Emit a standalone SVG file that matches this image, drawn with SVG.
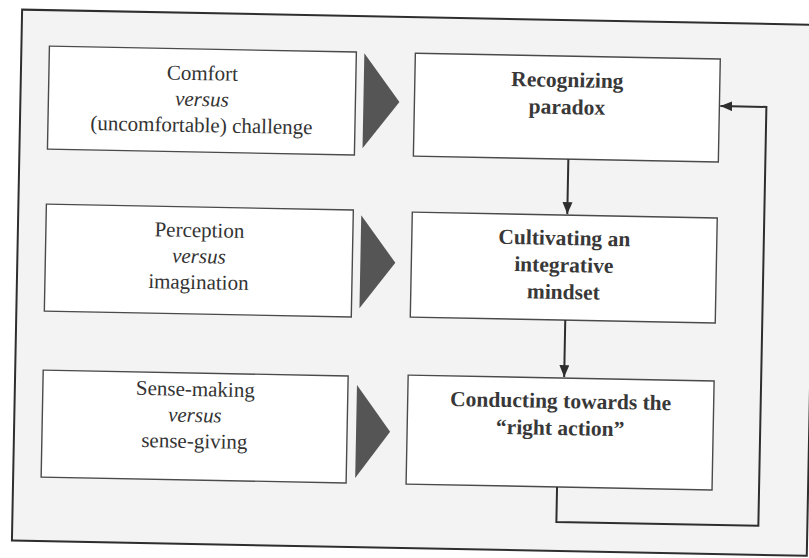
<svg xmlns="http://www.w3.org/2000/svg" width="809" height="558" viewBox="0 0 809 558">
<defs>
<style>
.frame{fill:#f3f3f3;stroke:#2e2e2e;stroke-width:2}
.box{fill:#ffffff;stroke:#4a4a4a;stroke-width:1.4}
.tri{fill:#555555}
.reg{font-family:"Liberation Serif","Times New Roman",serif;font-size:21px;fill:#333333;text-anchor:middle}
.it{font-style:italic}
.bold{font-family:"Liberation Serif","Times New Roman",serif;font-size:21.5px;font-weight:bold;fill:#383838;text-anchor:middle}
.conn{fill:none;stroke:#2e2e2e;stroke-width:2}
</style>
<marker id="ah" markerUnits="userSpaceOnUse" markerWidth="13" markerHeight="11" refX="12" refY="5" orient="auto">
<path d="M0,0 L12,5 L0,10 z" fill="#2e2e2e"/>
</marker>
</defs>
<rect x="0" y="0" width="809" height="558" fill="#ffffff"/>
<g transform="rotate(1.1 404 280)">
<rect class="frame" x="17" y="17" width="795" height="531"/>

<g id="n-comfort">
<rect class="box" x="45" y="53" width="307" height="103"/>
<text class="reg" x="198.5" y="84">Comfort</text>
<text class="reg it" x="198.5" y="110">versus</text>
<text class="reg" x="198.5" y="136">(uncomfortable) challenge</text>
</g>
<g id="n-perception">
<rect class="box" x="45" y="211" width="307" height="107"/>
<text class="reg" x="198.5" y="241">Perception</text>
<text class="reg it" x="198.5" y="267">versus</text>
<text class="reg" x="198.5" y="293">imagination</text>
</g>
<g id="n-sense">
<rect class="box" x="45" y="377" width="305" height="107"/>
<text class="reg" x="197.5" y="400">Sense-making</text>
<text class="reg it" x="197.5" y="426">versus</text>
<text class="reg" x="197.5" y="452">sense-giving</text>
</g>

<g id="t1"><polygon class="tri" points="360,54 360,149 396,102"/></g>
<g id="t2"><polygon class="tri" points="360,216 360,309 395,263"/></g>
<g id="t3"><polygon class="tri" points="359,386 359,479 393,432"/></g>

<g id="n-recognizing">
<rect class="box" x="411" y="53" width="305" height="103"/>
<text class="bold" x="563.5" y="84">Recognizing</text>
<text class="bold" x="563.5" y="111">paradox</text>
</g>
<g id="n-cultivating">
<rect class="box" x="411" y="212" width="305" height="105"/>
<text class="bold" x="563.5" y="242">Cultivating an</text>
<text class="bold" x="563.5" y="269">integrative</text>
<text class="bold" x="563.5" y="296">mindset</text>
</g>
<g id="n-conducting">
<rect class="box" x="410" y="375" width="306" height="109"/>
<text class="bold" x="563" y="405">Conducting towards the</text>
<text class="bold" x="563" y="432">“right action”</text>
</g>

<g id="connectors">
<path class="conn" d="M566,156 V211" marker-end="url(#ah)"/>
<path class="conn" d="M566,317 V374" marker-end="url(#ah)"/>
<path class="conn" d="M561,484 V519 H763 V100 H717" marker-end="url(#ah)"/>
</g>
</g>
</svg>
